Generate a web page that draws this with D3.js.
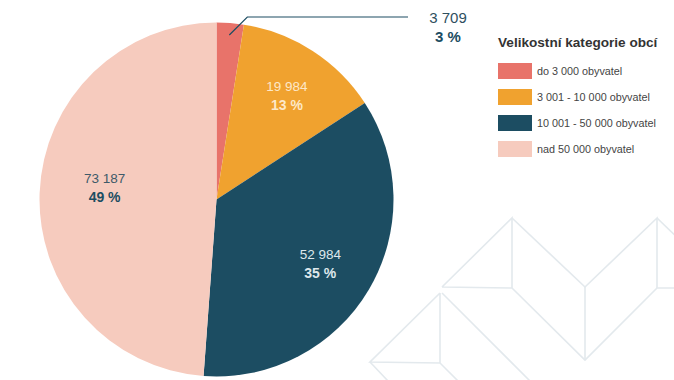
<!DOCTYPE html>
<html>
<head>
<meta charset="utf-8">
<script src="https://cdn.jsdelivr.net/npm/d3@7"></script>
<style>
  body { margin: 0; background: #fff; }
  svg { display: block; font-family: "Liberation Sans", Arial, sans-serif; }
</style>
</head>
<body>
<script>
// data
var categories = ["do 3 000 obyvatel", "3 001 - 10 000 obyvatel", "10 001 - 50 000 obyvatel", "nad 50 000 obyvatel"];
var values = [3709, 19984, 52984, 73187];
var valueLabels = ["3 709", "19 984", "52 984", "73 187"];
var percentLabels = ["3 %", "13 %", "35 %", "49 %"];
var legendTitle = "Velikostní kategorie obcí";

var colors = ["#e8736a", "#f0a22f", "#1c4d62", "#f6cbbe"];
var numColors = ["#2f4f5f", "#fde8c8", "#dfe8ec", "#3e5a69"];
var pctColors = ["#1c4d62", "#fde8c8", "#dfe8ec", "#1c4d62"];

var svgWidth = 674, svgHeight = 380;
var cx = 216.5, cy = 199.5, radius = 177;

var svg = d3.select("body").append("svg")
    .attr("width", svgWidth)
    .attr("height", svgHeight);

// decorative background lines (bottom right)
var deco = [
  [[442, 287], [512, 218], [512, 288], [442, 287]],
  [[512, 218], [585, 287], [657, 218], [657, 288]],
  [[657, 218], [690, 250]],
  [[512, 288], [585, 360], [657, 288], [674, 288]],
  [[585, 287], [585, 360]],
  [[442, 293], [530, 381]],
  [[440, 293], [440, 363], [370, 362], [440, 293]],
  [[370, 362], [388, 381]],
  [[440, 363], [458, 381]]
];
svg.append("g").selectAll("path")
    .data(deco)
    .enter().append("path")
    .attr("d", d3.line())
    .attr("fill", "none")
    .attr("stroke", "#e3e9ed")
    .attr("stroke-width", 1.6);

var pie = d3.pie().sort(null).value(function(d){ return d; });
var arcs = pie(values);

var arc = d3.arc().innerRadius(0).outerRadius(radius);
var labelArc = d3.arc().innerRadius(124).outerRadius(124);
var leaderArc = d3.arc().innerRadius(165).outerRadius(165);

var g = svg.append("g")
    .attr("transform", "translate(" + cx + "," + cy + ")");

g.selectAll("path.slice")
    .data(arcs)
    .enter().append("path")
    .attr("class", "slice")
    .attr("d", arc)
    .attr("fill", function(d, i){ return colors[i]; });

// labels inside big slices
var inside = arcs.filter(function(d){ return d.index > 0; });
var lbl = g.selectAll("g.lbl")
    .data(inside)
    .enter().append("g")
    .attr("class", "lbl")
    .attr("transform", function(d){
        var c = labelArc.centroid(d);
        if (d.index === 3) c[0] += 12, c[1] -= 8;
        if (d.index === 1) c[0] += 3;
        if (d.index === 2) c[0] -= 3;
        return "translate(" + c + ")";
    });
lbl.append("text")
    .attr("text-anchor", "middle")
    .attr("y", -4)
    .attr("font-size", "13.5px")
    .attr("fill", function(d){ return numColors[d.index]; })
    .text(function(d){ return valueLabels[d.index]; });
lbl.append("text")
    .attr("text-anchor", "middle")
    .attr("y", 15)
    .attr("font-size", "14px")
    .attr("font-weight", "bold")
    .attr("fill", function(d){ return pctColors[d.index]; })
    .text(function(d){ return percentLabels[d.index]; });

// leader for small slice
var p0 = leaderArc.centroid(arcs[0]);
var p1 = [p0[0] + 18, p0[1] - 18];
var p2 = [408 - cx, p1[1]];
g.append("path")
    .attr("d", d3.line()([p0, p1, p2]))
    .attr("fill", "none")
    .attr("stroke", "#1c4d62")
    .attr("stroke-width", 1.2);

svg.append("text")
    .attr("x", 448).attr("y", 23)
    .attr("text-anchor", "middle")
    .attr("font-size", "15px")
    .attr("fill", numColors[0])
    .text(valueLabels[0]);
svg.append("text")
    .attr("x", 448).attr("y", 42)
    .attr("text-anchor", "middle")
    .attr("font-size", "15px")
    .attr("font-weight", "bold")
    .attr("fill", pctColors[0])
    .text(percentLabels[0]);

// legend
var legend = svg.append("g")
    .attr("transform", "translate(498,0)");
legend.append("text")
    .attr("x", 0).attr("y", 47)
    .attr("font-size", "13.6px")
    .attr("font-weight", "bold")
    .attr("fill", "#333")
    .text(legendTitle);

var yLeg = d3.scaleBand().domain(categories).range([63, 167]);
var item = legend.selectAll("g.item")
    .data(categories)
    .enter().append("g")
    .attr("class", "item")
    .attr("transform", function(d){ return "translate(0," + yLeg(d) + ")"; });
item.append("rect")
    .attr("width", 34).attr("height", 16)
    .attr("fill", function(d, i){ return colors[i]; });
item.append("text")
    .attr("x", 39).attr("y", 12)
    .attr("font-size", "10.8px")
    .attr("fill", "#444")
    .text(function(d){ return d; });
</script>
</body>
</html>
